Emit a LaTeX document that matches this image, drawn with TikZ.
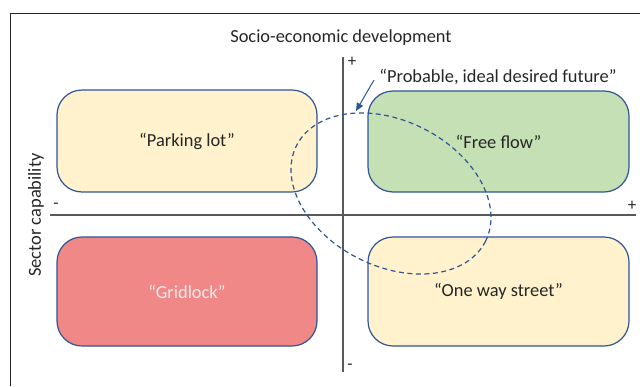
\documentclass[tikz,border=0pt]{standalone}
\usepackage{fontspec}
\setmainfont{Carlito}
\usetikzlibrary{arrows.meta}
\definecolor{txt}{HTML}{262626}
\definecolor{boxline}{HTML}{2F5597}
\definecolor{yel}{HTML}{FFF2CC}
\definecolor{grn}{HTML}{C5E0B4}
\definecolor{rd}{HTML}{F08888}
\definecolor{axisc}{HTML}{595959}
\definecolor{gridtxt}{HTML}{FDEAEA}
\tikzset{
  quad/.style={draw=boxline, line width=1.2pt, rounded corners=25pt, inner sep=0pt,
    text=txt, font=\fontsize{18.4}{22}\selectfont},
  axisline/.style={draw=axisc, line width=1.6pt},
  lbl/.style={text=txt, font=\fontsize{18.4}{22}\selectfont, inner sep=0pt},
  sgn/.style={text=txt, font=\fontsize{17}{19}\selectfont, inner sep=0pt},
  future/.style={draw=boxline, line width=1.2pt, dash pattern=on 5pt off 3.5pt},
  pointer/.style={draw=boxline, line width=1pt, -{Triangle[length=8pt,width=7pt]}}
}
\begin{document}
\begin{tikzpicture}[x=1pt,y=1pt]
\useasboundingbox (0,0) rectangle (640,-386);
% frame
\coordinate (fbl) at (10.7,-386);
\coordinate (ftl) at (10.7,-13.3);
\coordinate (ftr) at (640,-13.3);
\draw[txt, line width=1pt] (fbl) -- (ftl) -- (ftr);
% boxes
\node[quad, fill=yel, minimum width=260pt, minimum height=102pt] (park) at (187,-141) {``Parking lot''};
\node[quad, fill=grn, minimum width=261pt, minimum height=101pt] (free) at (498.5,-141.5) {``Free flow''};
\node[quad, fill=rd, text=gridtxt, minimum width=260pt, minimum height=109pt] (grid) at (187,-291.5) {``Gridlock''};
\node[quad, fill=yel, minimum width=261pt, minimum height=109pt] (oneway) at (498.5,-291.5) {``One way street''};
% axes
\coordinate (vtop) at (343,-57);
\coordinate (vbot) at (343,-372);
\coordinate (hleft) at (50,-215);
\coordinate (hright) at (636,-215);
\draw[axisline] (vtop) -- (vbot);
\draw[axisline] (hleft) -- (hright);
\node[sgn] (vplus) at (352,-62) {+};
\node[sgn] (vminus) at (350,-367) {-};
\node[sgn] (hplus) at (632,-206) {+};
\node[sgn] (hminus) at (56,-206) {-};
% labels
\node[lbl] (title) at (341,-38) {Socio-economic development};
\node[lbl, rotate=90] (ylab) at (36,-215) {Sector capability};
\node[lbl] (prob) at (498,-77) {``Probable, ideal desired future''};
% ellipse
\coordinate (ec) at (391,-193.5);
\draw[future, rotate around={-26.9:(ec)}] (ec) ellipse [x radius=105.9pt, y radius=72.6pt];
% pointer
\coordinate (pstart) at (374,-80);
\coordinate (ptip) at (356,-111);
\draw[pointer] (pstart) -- (ptip);
\end{tikzpicture}
\end{document}
